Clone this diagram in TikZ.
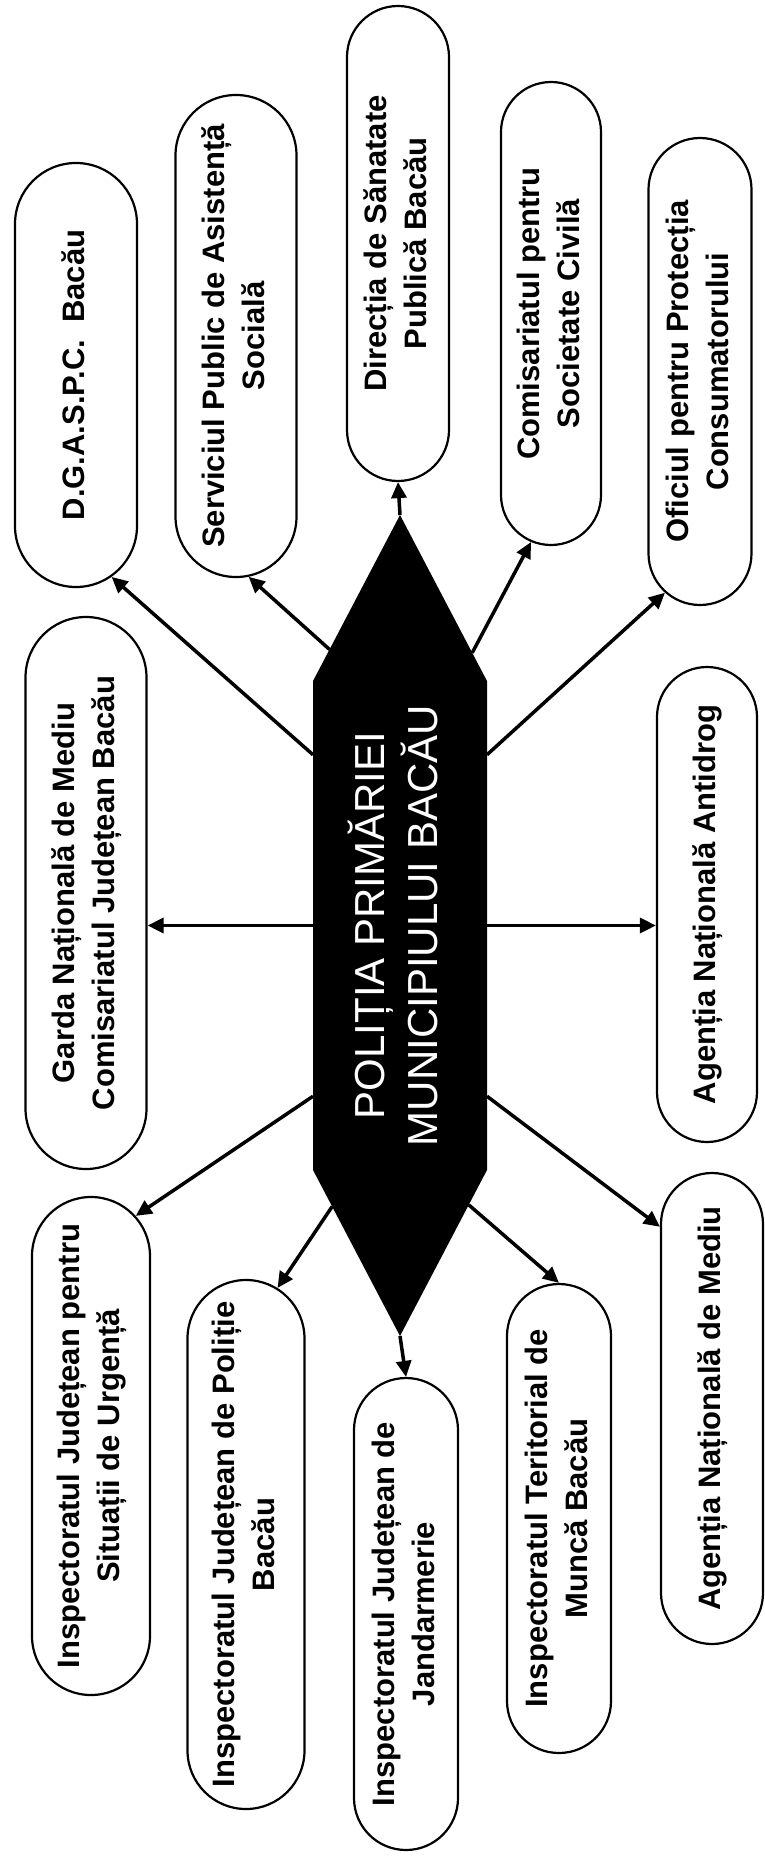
\documentclass[tikz,border=0pt]{standalone}
\usepackage{fontspec}
\setmainfont{Liberation Sans}
\usepackage{graphicx}
\usepackage{tikz}
\usetikzlibrary{arrows.meta}
\usetikzlibrary{calc}
\usetikzlibrary{shapes.misc}
\pgfdeclarelayer{bg}
\pgfsetlayers{bg,main}

% text of zero width, so that the shape keeps its given size
\newcommand{\lbl}[1]{\makebox[0pt]{\begin{tabular}{@{}c@{}}#1\end{tabular}}}

\begin{document}
\begin{tikzpicture}[
    x = 1pt, y = -1pt,
    inst/.style = {
      rounded rectangle, draw, line width = 2.2pt, rotate = 90,
      inner sep = 0pt, font = \fontsize{31}{40}\selectfont\bfseries,
    },
    centre/.style = {
      rectangle, text = white, rotate = 90, inner sep = 0pt, outer sep = 0pt,
      minimum width = 489pt, minimum height = 174pt,
      font = \fontsize{42}{53}\selectfont,
    },
  ]
  \useasboundingbox (0,0) rectangle (764,1862);

  \node[centre] (pol) at (400, 925.5) {\lbl{POLIȚIA PRIMĂRIEI\\MUNICIPIULUI BACĂU}};
  \coordinate (pol-top) at ($(pol.east) + (0,-166)$);
  \coordinate (pol-bot) at ($(pol.west) + (0, 166)$);
  \begin{pgfonlayer}{bg}
    \fill (pol.north east) -- (pol-top) -- (pol.south east)
       -- (pol.south west) -- (pol-bot) -- (pol.north west) -- cycle;
  \end{pgfonlayer}

  % upper row
  \node[inst, minimum width = 424pt, minimum height = 122pt] (dgaspc) at ( 76, 375)
    {\lbl{D.G.A.S.P.C.\ \ Bacău}};
  \node[inst, minimum width = 482pt, minimum height = 121pt] (serv)   at (236, 336)
    {\lbl{Serviciul Public de Asistență\\Socială}};
  \node[inst, minimum width = 475pt, minimum height = 102pt] (dsp)    at (398, 243.5)
    {\lbl{Direcția de Sănatate\\Publică Bacău}};
  \node[inst, minimum width = 463pt, minimum height = 100pt] (csc)    at (551, 313.5)
    {\lbl{Comisariatul pentru\\Societate Civilă}};
  \node[inst, minimum width = 467pt, minimum height = 103pt] (opc)    at (700, 371.5)
    {\lbl{Oficiul pentru Protecția\\Consumatorului}};

  % middle row
  \node[inst, minimum width = 552pt, minimum height = 121pt] (garda)  at ( 86, 893)
    {\lbl{Garda Națională de Mediu\\Comisariatul Județean Bacău}};
  \node[inst, minimum width = 475pt, minimum height = 100pt] (ana)    at (707, 904.5)
    {\lbl{Agenția Națională Antidrog}};

  % lower row
  \node[inst, minimum width = 498pt, minimum height = 118pt] (isu)    at ( 91, 1446)
    {\lbl{Inspectoratul Județean pentru\\Situații de Urgență}};
  \node[inst, minimum width = 529pt, minimum height = 117pt] (ipj)    at (246, 1544.5)
    {\lbl{Inspectoratul Județean de Poliție\\Bacău}};
  \node[inst, minimum width = 472pt, minimum height = 104pt] (ijj)    at (406, 1614)
    {\lbl{Inspectoratul Județean de\\Jandarmerie}};
  \node[inst, minimum width = 469pt, minimum height = 104pt] (itm)    at (559, 1518.5)
    {\lbl{Inspectoratul Teritorial de\\Muncă Bacău}};
  \node[inst, minimum width = 471pt, minimum height = 102pt] (anm)    at (712, 1408.5)
    {\lbl{Agenția Națională de Mediu}};

  \begin{scope}[line width = 3.5pt, -{Triangle[length = 16pt, width = 15pt]}]
    \draw (pol.27.5) -- (dgaspc.-170.4);
    \draw ($(pol.north east)!0.19!(pol-top)$) -- (serv.-177.1);
    \draw (pol-top) -- (dsp.west);
    \draw ($(pol.south east)!0.17!(pol-top)$) -- (csc.175);
    \draw (pol.-27.8) -- (opc.171.9);

    \draw (pol.north) -- (pol.north -| garda.south);
    \draw (pol.south) -- (pol.south -| ana.north);

    \draw (pol.153.2) -- (isu.-11.1);
    \draw ($(pol.north west)!0.22!(pol-bot)$) -- (ipj.-7.1);
    \draw (pol-bot) -- (ijj.east);
    \draw ($(pol.south west)!0.21!(pol-bot)$) -- (itm.0.7);
    \draw (pol.207.6) -- (anm.16.4);
  \end{scope}
\end{tikzpicture}
\end{document}
